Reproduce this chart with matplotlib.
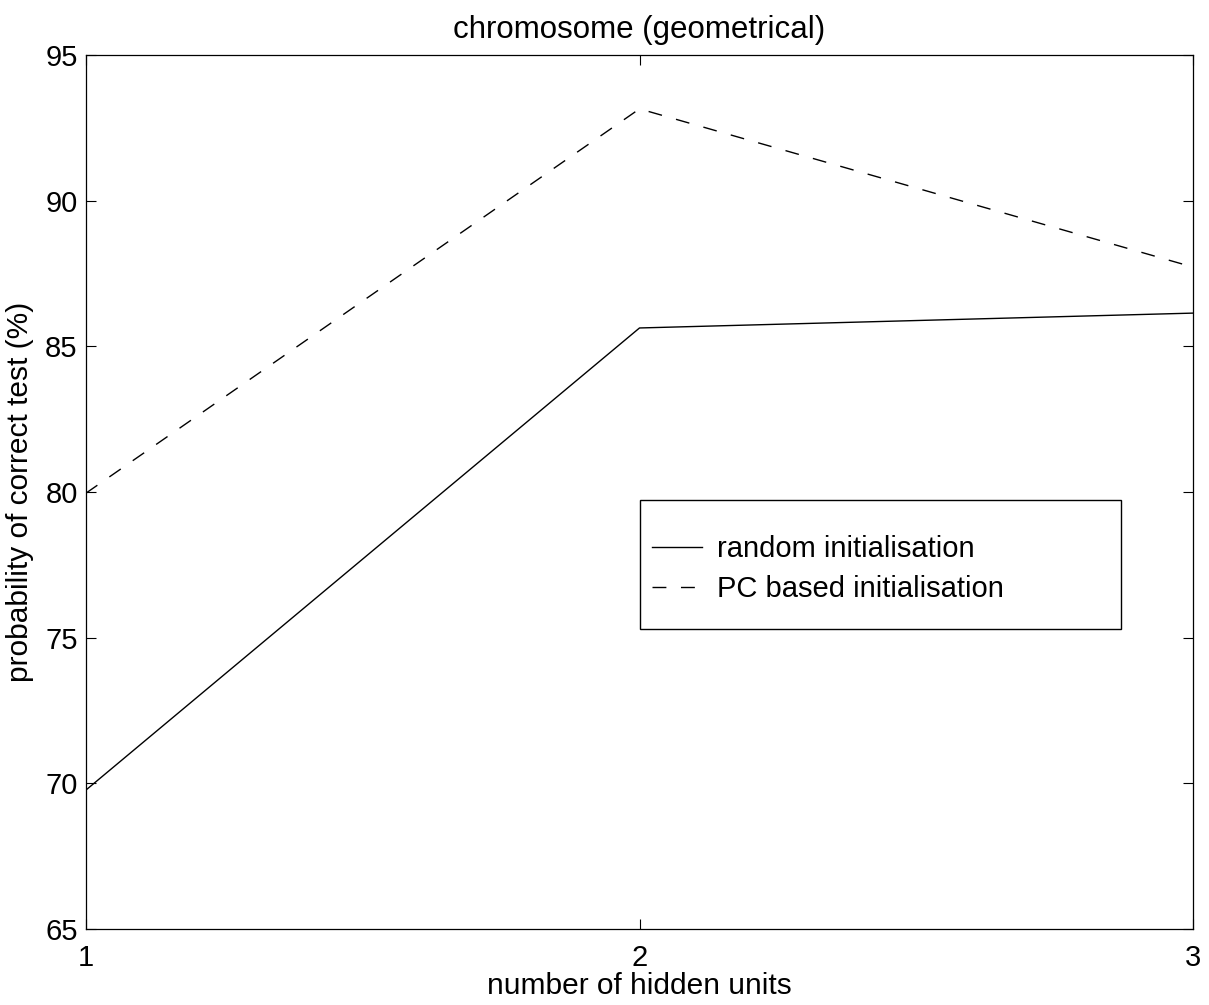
#!/usr/bin/env python3
"""Test accuracy against number of hidden units, two initialisation schemes."""

import matplotlib
matplotlib.use('Agg')
from matplotlib import pyplot as plt, rc
from matplotlib.patches import Rectangle


HIDDEN_UNITS = [1, 2, 3]
RANDOM_INIT = [69.77, 85.63, 86.14]
PC_INIT = [79.96, 93.15, 87.72]
Y_TICKS = [65, 70, 75, 80, 85, 90, 95]


def main():
    """Draw both curves and save the figure."""
    rc('font', family=['Liberation Sans', 'DejaVu Sans'], size=21)
    fig = plt.figure(figsize=(12.09, 10.05), dpi=100)
    ax = fig.add_axes([0.0711, 0.0756, 0.9157, 0.8697])

    ax.plot(HIDDEN_UNITS, RANDOM_INIT, color='black', lw=1.0,
            label='random initialisation')
    ax.plot(HIDDEN_UNITS, PC_INIT, color='black', lw=1.0,
            dashes=(10, 10.5), label='PC based initialisation')

    ax.set_xlim(1, 3)
    ax.set_ylim(65, 95)
    ax.set_xticks(HIDDEN_UNITS)
    ax.set_yticks(Y_TICKS)
    ax.tick_params(direction='in', length=7.5, width=0.8, top=True,
                   right=True, labelsize=21)
    ax.tick_params(axis='x', pad=10.5)
    ax.tick_params(axis='y', pad=6)
    for spine in ax.spines.values():
        spine.set_linewidth(0.9)

    ax.set_title('chromosome (geometrical)', fontsize=22.5, pad=12)
    ax.set_xlabel('number of hidden units', fontsize=21.5, labelpad=0)
    ax.set_ylabel('probability of correct test (%)', fontsize=21.5,
                  labelpad=8)

    # legend box drawn separately so its padding can differ per side
    ax.add_patch(Rectangle((0.5005, 0.3432), 0.4345, 0.1476,
                           transform=ax.transAxes, fill=False,
                           edgecolor='black', lw=1.0, zorder=5))
    ax.legend(loc='center left', bbox_to_anchor=(0.5113, 0.4119),
              fontsize=21, frameon=False, borderpad=0, labelspacing=0.42,
              handlelength=1.71, handletextpad=0.51, borderaxespad=0)

    fig.savefig('out.png', dpi=100)


if __name__ == '__main__':
    main()
